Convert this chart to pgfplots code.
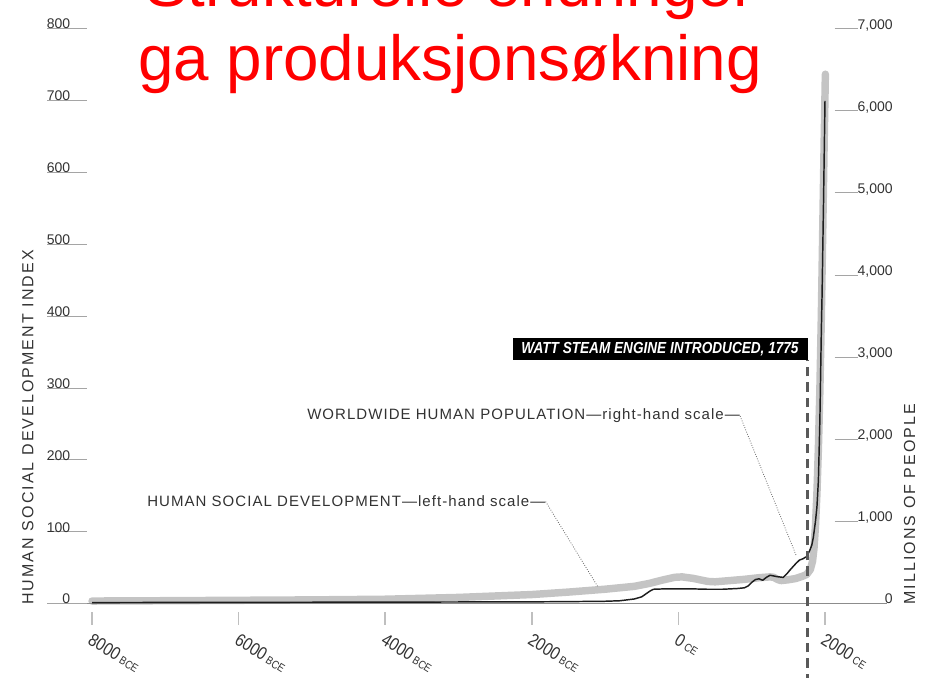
\documentclass[border=0pt]{standalone}
\usepackage{pgfplots}
\pgfplotsset{compat=1.18}
\usepackage{pgfplotstable}
\usepackage{fontspec}
\setmainfont{Liberation Sans}
\newfontfamily\annfont{Liberation Sans}[LetterSpace=7]
\newfontfamily\labfont{Liberation Sans}[LetterSpace=13]
\newfontfamily\wattfont{Liberation Sans}[FakeStretch=0.85]
\newfontfamily\tickfont{Liberation Sans}[FakeStretch=0.85]
\definecolor{popgray}{RGB}{196,196,196}
\definecolor{hsdblack}{RGB}{30,30,30}
\definecolor{txtgray}{RGB}{50,50,50}
\definecolor{rulegray}{RGB}{165,165,165}
\definecolor{titlered}{RGB}{255,0,0}
\newcommand\lefttick[1]{\rlap{\textcolor{rulegray}{\rule{30pt}{0.6pt}}}\makebox[17.25pt][r]{#1}}
\newcommand\righttick[1]{\hbox to 43.5pt{\textcolor{rulegray}{\leaders\hrule height 0.6pt\hfill}#1}}
\newcommand\era[1]{\,{\fontsize{8.5pt}{10pt}\selectfont #1}}

\pgfplotstableread{
year pop
-8000 36
-7000 40
-6000 45
-5000 50
-4000 58
-3000 80
-2000 115
-1500 145
-1000 180
-600 215
-400 250
-200 295
-50 325
50 330
200 312
400 275
500 270
700 285
900 300
1100 320
1250 330
1300 325
1350 300
1400 285
1500 295
1600 310
1700 340
1750 360
1800 420
1830 520
1850 680
1870 950
1890 1350
1910 1900
1930 2600
1950 3500
1970 4600
1990 5700
2005 6450
}\poptable

\pgfplotstableread{
year hsd
-8000 2
-6000 2.3
-4000 2.6
-2000 3
-1500 3.3
-1000 3.8
-800 4.5
-600 7
-500 10
-430 15
-380 18.5
-340 20.5
-200 21
0 21
200 21
400 20.5
600 20.5
800 21.5
900 22.5
950 25
1000 30
1050 34
1100 35
1150 33
1200 37
1250 40
1300 39
1350 38
1430 37
1480 42
1520 47
1600 56
1650 61
1700 63
1750 66
1790 74
1820 82
1840 92
1870 115
1890 135
1910 172
1930 255
1950 380
1960 430
1980 560
2000 700
}\hsdtable

\begin{document}
\begin{tikzpicture}[x=0.75pt,y=0.75pt]
\path[use as bounding box] (0,0) rectangle (926,678);
\clip (0,0) rectangle (926,678);

% population (right-hand scale)
\begin{axis}[
  at={(35.25pt,55.5pt)}, anchor=south west,
  scale only axis, width=630pt, height=431.25pt,
  xmin=-8614, xmax=2846, ymin=0, ymax=7000,
  axis x line=none,
  axis y line*=right,
  y axis line style={draw=none},
  xtick=\empty,
  ytick={0,1000,...,7000},
  ytick align=inside,
  ytick style={draw=none},
  yticklabel={\righttick{\pgfmathprintnumber[assume math mode=true,fixed,precision=0,1000 sep={,}]{\tick}}},
  yticklabel style={anchor=base east, inner sep=0pt, xshift=4.5pt, font=\fontsize{10.5pt}{12pt}\selectfont, text=txtgray},
  clip=false,
]
\addplot[popgray, line width=5.6pt, line cap=round, line join=round, mark=none] table[x=year,y=pop]{\poptable};
\end{axis}

% human social development (left-hand scale)
\begin{axis}[
  at={(35.25pt,55.5pt)}, anchor=south west,
  scale only axis, width=630pt, height=431.25pt,
  xmin=-8614, xmax=2846, ymin=0, ymax=800,
  axis x line*=bottom, axis y line*=left,
  x axis line style={draw=black!45, line width=0.75pt, -},
  y axis line style={draw=none},
  xtick={-8000,-6000,-4000,-2000,0,2000},
  xticklabels={8000\era{BCE},6000\era{BCE},4000\era{BCE},2000\era{BCE},0\era{CE},2000\era{CE}},
  xtick align=outside,
  ytick align=inside,
  major tick length=9.75pt,
  xtick style={draw=black!25, line width=1.1pt, yshift=-6pt},
  ytick style={draw=none},
  xticklabel style={rotate=-32, anchor=north west, inner sep=0pt, font=\tickfont\fontsize{13.5pt}{15pt}\selectfont, text=txtgray, yshift=-9pt, xshift=7pt},
  ytick={0,100,...,800},
  yticklabel={\lefttick{\pgfmathprintnumber[assume math mode=true,fixed,precision=0]{\tick}}},
  yticklabel style={anchor=base west, inner sep=0pt, font=\fontsize{10.5pt}{12pt}\selectfont, text=txtgray},
  clip=false,
]
\addplot[hsdblack, line width=1.1pt, line join=round, mark=none] table[x=year,y=hsd]{\hsdtable};
\draw[dash pattern=on 7pt off 4.5pt, line width=1.8pt, color=black!65] (axis cs:1760,-110) -- (axis cs:1760,339);
\end{axis}

% Watt box
\fill[black] (513,340) rectangle (808,318);
\node[text=white, font=\wattfont\bfseries\itshape\fontsize{12pt}{14pt}\selectfont, inner sep=0pt] at (660,329) {WATT STEAM ENGINE INTRODUCED, 1775};

% annotations
\node[anchor=base west, inner sep=0pt, font=\annfont\fontsize{11.25pt}{13pt}\selectfont, text=txtgray] (popl) at (307,258) {WORLDWIDE HUMAN POPULATION—right-hand scale—};
\draw[black!60, line width=0.6pt, dash pattern=on 0.6pt off 1.2pt] (popl.east) -- (796,123);
\node[anchor=base west, inner sep=0pt, font=\annfont\fontsize{11.25pt}{13pt}\selectfont, text=txtgray] (hsdl) at (147,171) {HUMAN SOCIAL DEVELOPMENT—left-hand scale—};
\draw[black!60, line width=0.6pt, dash pattern=on 0.6pt off 1.2pt] (hsdl.east) -- (598,91);

% axis titles
\node[rotate=90, anchor=base west, inner sep=0pt, font=\labfont\fontsize{12pt}{14pt}\selectfont, text=txtgray] at (33.5,73) {HUMAN SOCIAL DEVELOPMENT INDEX};
\node[rotate=90, anchor=base west, inner sep=0pt, font=\labfont\fontsize{12pt}{14pt}\selectfont, text=txtgray] at (915,73) {MILLIONS OF PEOPLE};

% title
\node[anchor=base, inner sep=0pt, font=\fontsize{47.8pt}{57pt}\selectfont, text=titlered] at (450,597) {ga produksjonsøkning};
\node[anchor=base, inner sep=0pt, font=\fontsize{47.8pt}{57pt}\selectfont, text=titlered] at (450,671) {Strukturelle endringer};
\end{tikzpicture}
\end{document}
